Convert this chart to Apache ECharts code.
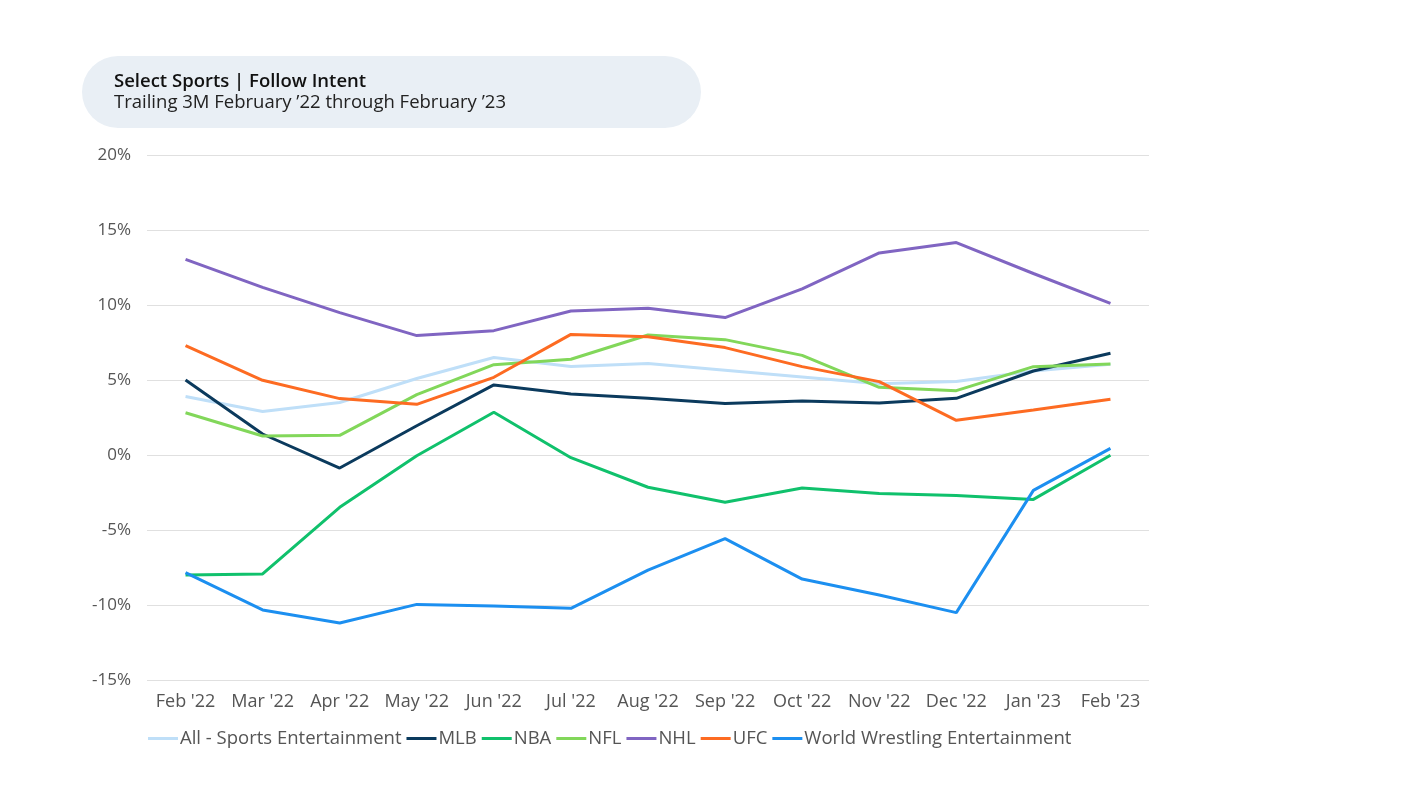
<!DOCTYPE html>
<html>
<head>
<meta charset="utf-8">
<script src="https://cdn.jsdelivr.net/npm/echarts@6/dist/echarts.min.js"></script>
<style>
html,body{margin:0;padding:0;background:#fff;}
#chart{width:1401px;height:788px;}
</style>
</head>
<body>
<div id="chart"></div>
<script>
const categories = ["Feb '22","Mar '22","Apr '22","May '22","Jun '22","Jul '22","Aug '22","Sep '22","Oct '22","Nov '22","Dec '22","Jan '23","Feb '23"];
const allSports = [3.9, 2.9, 3.5, 5.1, 6.5, 5.9, 6.1, 5.65, 5.2, 4.75, 4.9, 5.6, 6.05];
const mlb = [5.0, 1.4, -0.87, 1.95, 4.67, 4.07, 3.78, 3.44, 3.6, 3.47, 3.78, 5.6, 6.78];
const nba = [-8.0, -7.93, -3.49, -0.05, 2.85, -0.18, -2.15, -3.15, -2.2, -2.56, -2.7, -2.96, -0.02];
const nfl = [2.82, 1.27, 1.31, 4.02, 6.02, 6.38, 8.0, 7.69, 6.64, 4.51, 4.29, 5.89, 6.07];
const nhl = [13.04, 11.18, 9.49, 7.96, 8.29, 9.6, 9.78, 9.16, 11.07, 13.47, 14.16, 12.1, 10.11];
const ufc = [7.29, 4.98, 3.76, 3.38, 5.18, 8.04, 7.89, 7.16, 5.89, 4.89, 2.31, 3.0, 3.71];
const wwe = [-7.84, -10.33, -11.2, -9.96, -10.07, -10.22, -7.67, -5.58, -8.27, -9.33, -10.51, -2.36, 0.44];
const yTicks = [-15, -10, -5, 0, 5, 10, 15, 20];

const seriesDefs = [
  {name: 'All - Sports Entertainment', data: allSports, color: '#bfdff8'},
  {name: 'MLB', data: mlb, color: '#0b3a5d'},
  {name: 'NBA', data: nba, color: '#10c16c'},
  {name: 'NFL', data: nfl, color: '#82d75a'},
  {name: 'NHL', data: nhl, color: '#8065c2'},
  {name: 'UFC', data: ufc, color: '#fd6b22'},
  {name: 'World Wrestling Entertainment', data: wwe, color: '#1c8ff0'}
];

const chart = echarts.init(document.getElementById('chart'));
const font = "'Open Sans', sans-serif";
chart.setOption({
  animation: false,
  textStyle: {fontFamily: font},
  graphic: [
    {type: 'rect', left: 82, top: 56, shape: {width: 619, height: 72, r: 36}, style: {fill: '#e9eff5'}},
    {type: 'text', left: 114, top: 72, style: {text: 'Select Sports | Follow Intent', font: "600 18.5px " + font, fill: '#111'}},
    {type: 'text', left: 114, top: 93, style: {text: 'Trailing 3M February \u201922 through February \u201923', font: "18.5px " + font, fill: '#222'}}
  ],
  grid: {left: 147, right: 252, top: 155, bottom: 108, containLabel: false},
  legend: {
    left: 143, top: 724,
    icon: 'rect', itemWidth: 30, itemHeight: 3, itemGap: 5,
    textStyle: {fontSize: 18.5, color: '#555', fontFamily: font, padding: [0, 0, 0, -3]},
    data: seriesDefs.map(s => s.name)
  },
  xAxis: {
    type: 'category', data: categories, boundaryGap: true,
    axisLine: {show: false}, axisTick: {show: false},
    axisLabel: {fontSize: 18, color: '#555', margin: 13, interval: 0}
  },
  yAxis: {
    type: 'value', min: -15, max: 20, interval: 5,
    axisLine: {show: false}, axisTick: {show: false},
    axisLabel: {fontSize: 17, color: '#555', margin: 16, formatter: v => v + '%'},
    splitLine: {lineStyle: {color: '#e0e0e0', width: 1}}
  },
  series: seriesDefs.map(s => ({
    name: s.name, type: 'line', data: s.data, showSymbol: false, symbol: 'none',
    lineStyle: {color: s.color, width: 3}, itemStyle: {color: s.color}
  }))
});
</script>
</body>
</html>
